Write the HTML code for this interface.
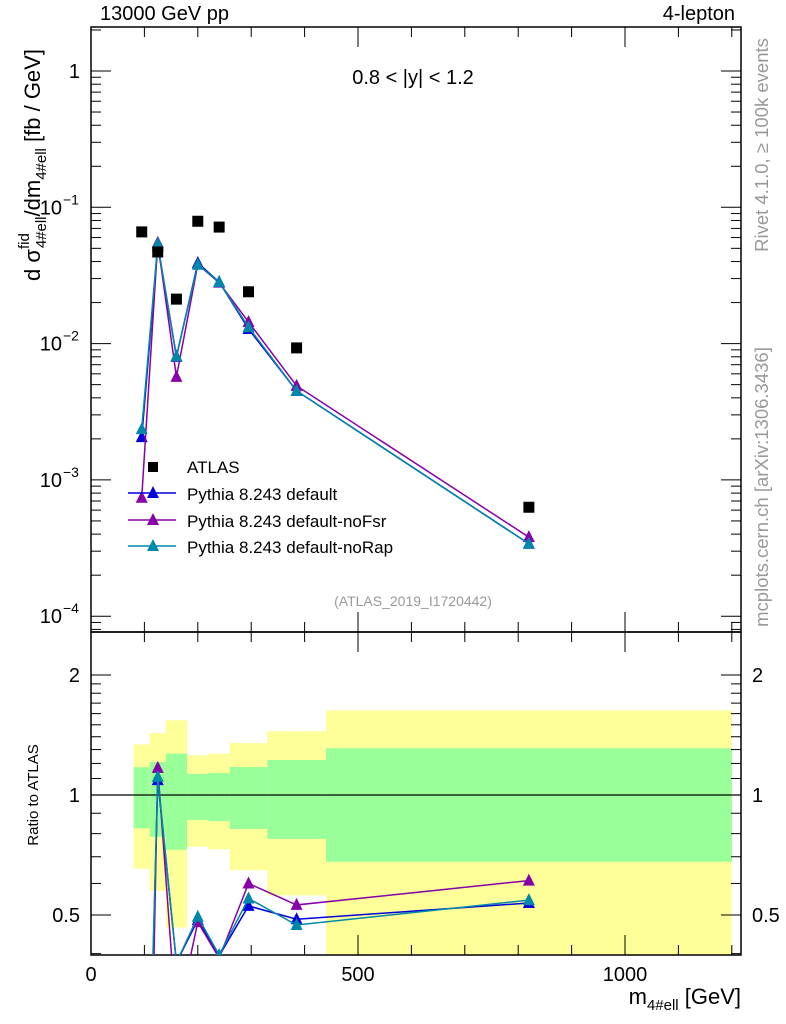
<!DOCTYPE html>
<html><head><meta charset="utf-8"><style>
html,body{margin:0;background:#fff;overflow:hidden;width:786px;height:1024px}
svg{display:block;font-family:"Liberation Sans",sans-serif}
</style></head><body>
<svg id="c" width="786" height="1024" xmlns="http://www.w3.org/2000/svg"></svg>
<script>
const centers=[95,125,160,200,240,295,385,820];
const edges=[80,110,140,180,220,260,330,440,1200];
const atlas=[0.066,0.047,0.0212,0.079,0.0716,0.024,0.0093,0.00063];
const pyDef=[0.00206,0.052,0.0080,0.039,0.0283,0.0128,0.0045,0.00034];
const pyNoFsr=[0.00074,0.055,0.0057,0.038,0.028,0.0144,0.0049,0.00038];
const pyNoRap=[0.00236,0.054,0.0081,0.038,0.0283,0.0132,0.0045,0.00034];
const rDef=[0.031,1.09,0.38,0.486,0.395,0.527,0.488,0.536];
const rNoFsr=[0.011,1.17,0.27,0.48,0.39,0.6,0.53,0.61];
const rNoRap=[0.036,1.11,0.38,0.495,0.397,0.55,0.472,0.545];
const yelHi=[1.34,1.43,1.54,1.257,1.27,1.35,1.445,1.63];
const yelLo=[0.653,0.575,0.465,0.742,0.731,0.648,0.56,0.3];
const grnHi=[1.174,1.21,1.27,1.13,1.135,1.175,1.224,1.31];
const grnLo=[0.825,0.786,0.729,0.866,0.86,0.822,0.776,0.68];
const xTicks=[0,500,1000];

const NS="http://www.w3.org/2000/svg";
const svg=document.getElementById('c');
const L=91,R=741,T=27,MB=632,B=955;
const X=v=>L+v*0.534;
const Y=v=>71-Math.log10(v)*136.3;
const RY=v=>795-Math.log10(v)*398.7;
function el(tag,attrs,parent){const e=document.createElementNS(NS,tag);for(const k in attrs)e.setAttribute(k,attrs[k]);(parent||svg).appendChild(e);return e;}
function txt(s,x,y,attrs){const t=el('text',Object.assign({x:x,y:y,'font-size':20,fill:'#000'},attrs||{}));t.textContent=s;return t;}

const defs=el('defs',{});
const c1=el('clipPath',{id:'cm'},defs);el('rect',{x:L,y:T,width:R-L,height:MB-T},c1);
const c2=el('clipPath',{id:'cr'},defs);el('rect',{x:L,y:MB,width:R-L,height:B-MB},c2);

const gb=el('g',{'clip-path':'url(#cr)'});


for(let i=0;i<centers.length;i++){
  const x0=X(edges[i]),x1=X(edges[i+1]);
  const y1=el('rect',{x:x0,y:RY(yelHi[i]),width:x1-x0,height:RY(yelLo[i])-RY(yelHi[i]),fill:'#ffff99'},gb);
  
  
  const g1=el('rect',{x:x0,y:RY(grnHi[i]),width:x1-x0,height:RY(grnLo[i])-RY(grnHi[i]),fill:'#99ff99'},gb);
  
  
}
el('line',{x1:L,x2:R,y1:RY(1),y2:RY(1),stroke:'#000','stroke-width':1.2});

el('rect',{x:L,y:T,width:R-L,height:MB-T,fill:'none',stroke:'#000','stroke-width':1.5});
el('rect',{x:L,y:MB,width:R-L,height:B-MB,fill:'none',stroke:'#000','stroke-width':1.5});

for(let e=-5;e<=0;e++){
  for(let m=1;m<10;m++){
    const v=m*Math.pow(10,e);const y=Y(v);
    if(y<T||y>MB)continue;
    const len=m==1?20:10;
    el('line',{x1:L,x2:L+len,y1:y,y2:y,stroke:'#000'});
    el('line',{x1:R,x2:R-len,y1:y,y2:y,stroke:'#000'});
  }
}
[0,-1,-2,-3,-4].forEach(e=>{
  const y=Y(Math.pow(10,e));
  if(e==0){const t=txt('1',80,y+7,{'text-anchor':'end'});}
  else{const t=el('text',{x:62,y:y+7,'font-size':20,'text-anchor':'end'});t.textContent='10';
    
    const s2=el('text',{x:63,y:y-3,'font-size':14});s2.textContent='\u2212'+(-e);}
});
[0.4,0.5,0.6,0.7,0.8,0.9,1,2].forEach(v=>{const y=RY(v);const len=(v==0.5||v==1||v==2)?20:10;
  el('line',{x1:L,x2:L+len,y1:y,y2:y,stroke:'#000'});el('line',{x1:R,x2:R-len,y1:y,y2:y,stroke:'#000'});});
[1.1,1.2,1.3,1.4,1.5,1.6,1.7,1.8,1.9].forEach(v=>{const y=RY(v);el('line',{x1:L,x2:L+10,y1:y,y2:y,stroke:'#000'});el('line',{x1:R,x2:R-10,y1:y,y2:y,stroke:'#000'});});
[[2,'2'],[1,'1'],[0.5,'0.5']].forEach(([v,s])=>{
  const a=txt(s,80,RY(v)+7,{'text-anchor':'end'});
  const b=txt(s,752,RY(v)+7);
});
for(let v=0;v<=1200;v+=100){const x=X(v);const len=v%500==0?20:10;
  el('line',{x1:x,x2:x,y1:B,y2:B-len,stroke:'#000'});el('line',{x1:x,x2:x,y1:MB,y2:MB+len,stroke:'#000'});
  el('line',{x1:x,x2:x,y1:MB,y2:MB-len,stroke:'#000'});el('line',{x1:x,x2:x,y1:T,y2:T+len,stroke:'#000'});}
xTicks.forEach(v=>{const t=txt(String(v),X(v),981,{'text-anchor':'middle'});});

function tri(g,x,y,c){el('polygon',{points:`${x-6},${y+5} ${x+6},${y+5} ${x},${y-7}`,fill:c},g);}
function series(vals,fy,color,name,clip){
  const g=el('g',{'clip-path':clip});
  
  
  el('polyline',{points:vals.map((v,i)=>X(centers[i])+','+fy(v)).join(' '),fill:'none',stroke:color,'stroke-width':1.5},g);
  vals.forEach((v,i)=>tri(g,X(centers[i]),fy(v),color));
}
const cols={def:'#0000dd',fsr:'#8800aa',rap:'#0088aa'};
series(pyDef,Y,cols.def,'series-pythia-default','url(#cm)');
series(pyNoFsr,Y,cols.fsr,'series-pythia-nofsr','url(#cm)');
series(pyNoRap,Y,cols.rap,'series-pythia-norap','url(#cm)');
series(rDef,RY,cols.def,'ratio-pythia-default','url(#cr)');
series(rNoFsr,RY,cols.fsr,'ratio-pythia-nofsr','url(#cr)');
series(rNoRap,RY,cols.rap,'ratio-pythia-norap','url(#cr)');
const ga=el('g',{});


atlas.forEach((v,i)=>el('rect',{x:X(centers[i])-5.5,y:Y(v)-5.5,width:11,height:11,fill:'#000'},ga));

const lg=el('g',{});


el('rect',{x:148,y:462,width:10,height:10,fill:'#000'},lg);
txt('ATLAS',187,473,{'font-size':17});
[[cols.def,'Pythia 8.243 default',493],[cols.fsr,'Pythia 8.243 default-noFsr',520],[cols.rap,'Pythia 8.243 default-noRap',546]].forEach(([c,s,y])=>{
  el('line',{x1:128,x2:176,y1:y,y2:y,stroke:c,'stroke-width':1.5},lg);tri(lg,153,y,c);
  const t=txt(s,187,y+7,{'font-size':17});
});

txt('13000 GeV pp',100,20);
txt('4-lepton',735,20,{'text-anchor':'end'});
txt('0.8 < |y| < 1.2',413,84,{'text-anchor':'middle'});
txt('(ATLAS_2019_I1720442)',413,606,{'text-anchor':'middle','font-size':14,fill:'#999'});
txt('Rivet 4.1.0, \u2265 100k events',768,145,{'text-anchor':'middle','font-size':18.5,fill:'#999',transform:'rotate(-90 768 145)'});
txt('mcplots.cern.ch [arXiv:1306.3436]',768,487,{'text-anchor':'middle','font-size':18.5,fill:'#999',transform:'rotate(-90 768 487)'});
const yl=el('text',{x:40,y:165,'font-size':22,'text-anchor':'middle',transform:'rotate(-90 40 165)'});

yl.innerHTML='d σ<tspan font-size="15" dy="-11">fid</tspan><tspan font-size="15" dx="-15" dy="17">4#ell</tspan><tspan dy="-6">/dm</tspan><tspan font-size="15" dy="6">4#ell</tspan><tspan dy="-6"> [fb / GeV]</tspan>';
txt('Ratio to ATLAS',38,795,{'text-anchor':'middle','font-size':15,transform:'rotate(-90 38 795)'});
const xl=el('text',{x:741,y:1004,'font-size':22,'text-anchor':'end'});

xl.innerHTML='m<tspan font-size="15" dy="6">4#ell</tspan><tspan dy="-6"> [GeV]</tspan>';
</script>
</body></html>
